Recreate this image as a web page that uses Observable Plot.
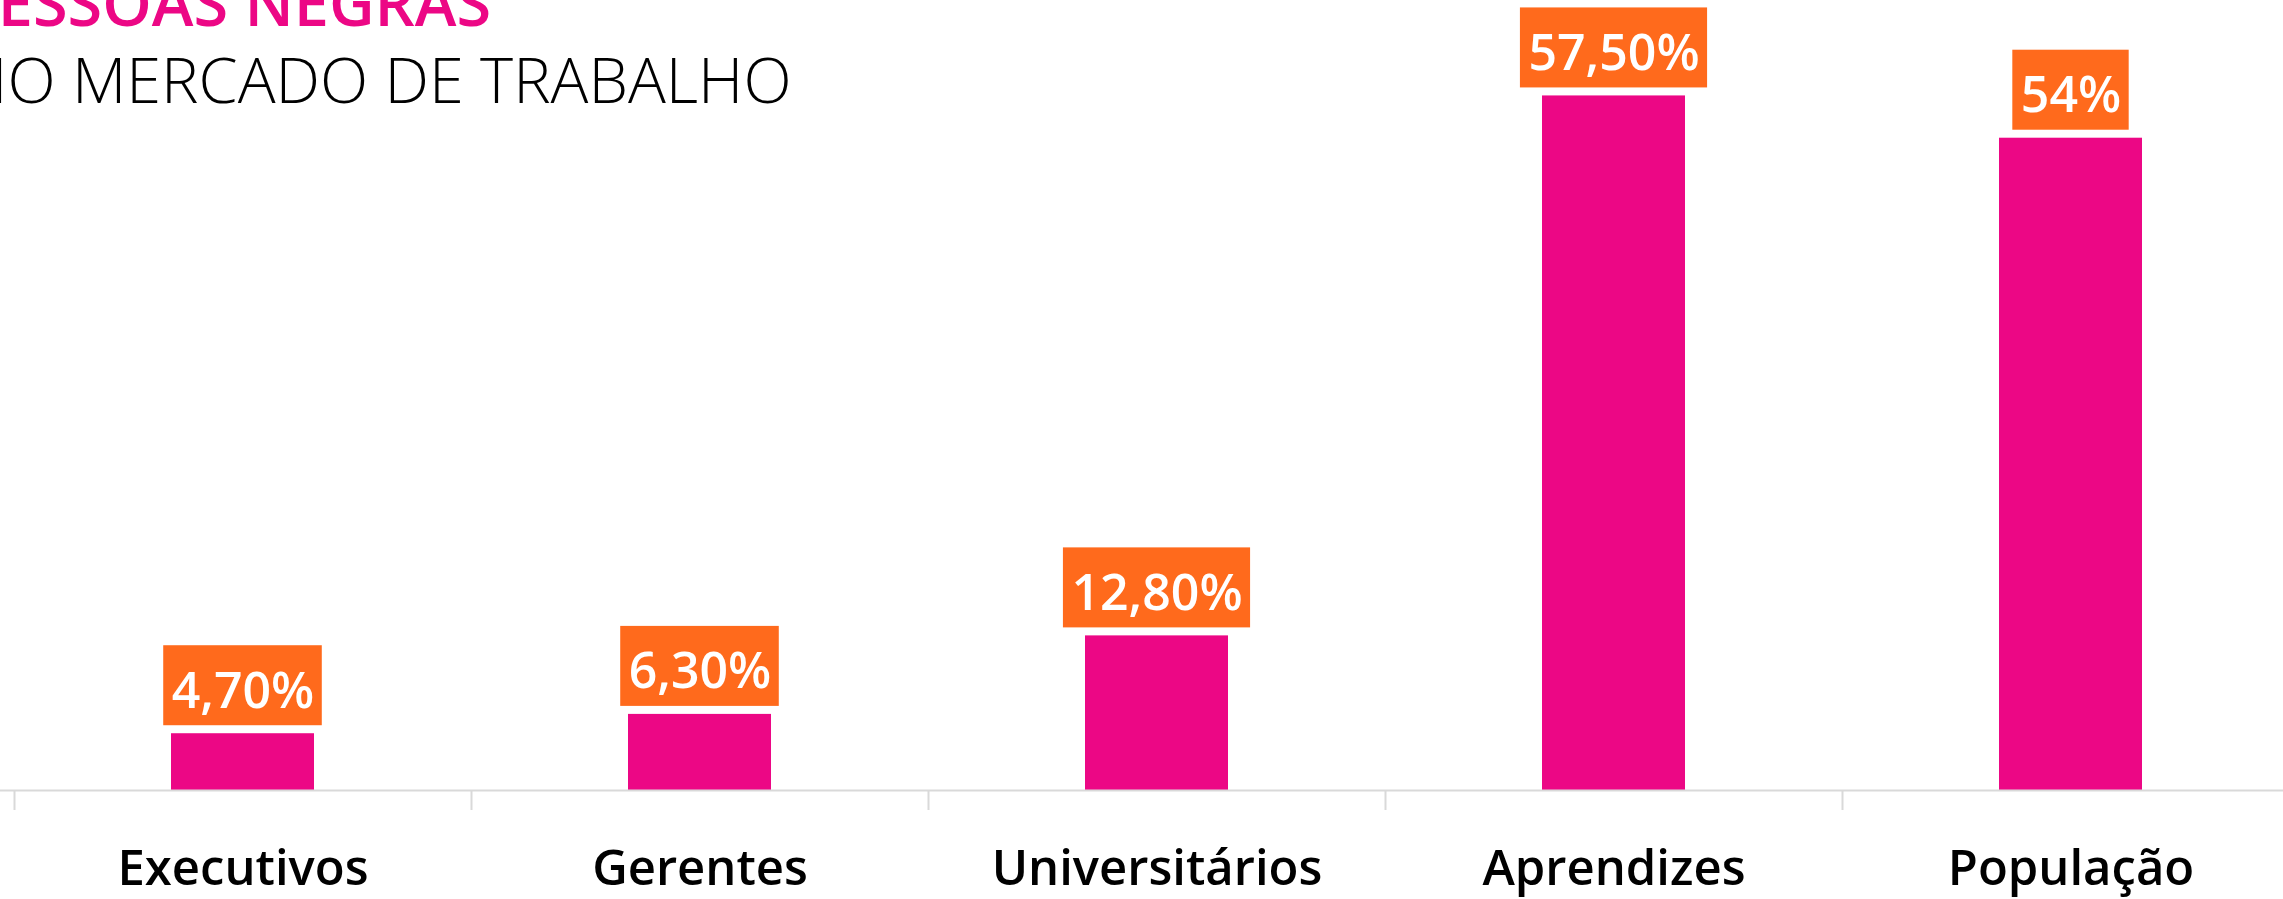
<!DOCTYPE html>
<html><head><meta charset="utf-8">
<script src="https://cdn.jsdelivr.net/npm/d3@7"></script>
<script src="https://cdn.jsdelivr.net/npm/@observablehq/plot@0.6"></script>
<style>
html,body{margin:0;padding:0;background:#fff;overflow:hidden}
#wrap{position:relative;width:2283px;height:899px;overflow:hidden}
.title{position:absolute;white-space:nowrap;line-height:1;font-family:"Open Sans",sans-serif}
#t1{left:-41px;top:-30px;font-size:63px;font-weight:600;color:#EC0785}
#t2{left:-38px;top:47px;font-size:63px;font-weight:300;color:#000}
</style></head>
<body><div id="wrap"><div id="chart"></div>
<div class="title" id="t1">PESSOAS NEGRAS</div>
<div class="title" id="t2">NO MERCADO DE TRABALHO</div></div>
<script>
const categories = ["Executivos", "Gerentes", "Universitários", "Aprendizes", "População"];
const values = [4.7, 6.3, 12.8, 57.5, 54];
const valueLabels = ["4,70%", "6,30%", "12,80%", "57,50%", "54%"];

const data = categories.map((c, i) => ({category: c, value: values[i], label: valueLabels[i]}));
const xRange = [14, 2299];
const step = (xRange[1] - xRange[0]) / categories.length;
const pink = "#EC0785", orange = "#FF6A1C", gridGray = "#d9d9d9";

const chart = Plot.plot({
  width: 2283, height: 899,
  marginTop: 0, marginBottom: 109, marginLeft: 0, marginRight: 0,
  style: {fontFamily: "'Open Sans', sans-serif", background: "#fff", color: "#000"},
  x: {domain: categories, range: xRange, paddingInner: 0.686, paddingOuter: 0.343, axis: null, label: null},
  y: {domain: [0, 65.4], axis: null},
  marks: [
    Plot.barY(data, {x: "category", y: "value", fill: pink}),
    Plot.ruleY([0], {stroke: gridGray, strokeWidth: 2}),
    Plot.axisX({tickSize: 20, tickFormat: () => "", stroke: gridGray, strokeWidth: 2, dx: -step / 2, label: null}),
    Plot.axisX({tickSize: 0, tickPadding: 60, fontSize: 49, fontWeight: 600, fill: "#000", label: null}),
    Plot.text(data, {x: "category", y: "value", text: "label", fill: "white", fontSize: 50, fontWeight: 600,
      lineAnchor: "middle", dy: -42})
  ]
});
document.getElementById("chart").appendChild(chart);

// orange label boxes sized to the rendered text
const xs = chart.scale("x"), ys = chart.scale("y");
const g = chart.querySelector('g[aria-label="text"]');
if (g) {
  const boxes = document.createElementNS("http://www.w3.org/2000/svg", "g");
  g.parentNode.insertBefore(boxes, g);
  g.querySelectorAll("text").forEach((t, i) => {
    const bb = t.getBBox();
    const w = bb.width + 16, h = 80;
    const cx = xs.apply(data[i].category) + xs.bandwidth / 2;
    const top = ys.apply(data[i].value) - 8 - h;
    const r = document.createElementNS("http://www.w3.org/2000/svg", "rect");
    r.setAttribute("x", cx - w / 2);
    r.setAttribute("y", top);
    r.setAttribute("width", w);
    r.setAttribute("height", h);
    r.setAttribute("fill", orange);
    boxes.appendChild(r);
  });
}
</script>
</body></html>
